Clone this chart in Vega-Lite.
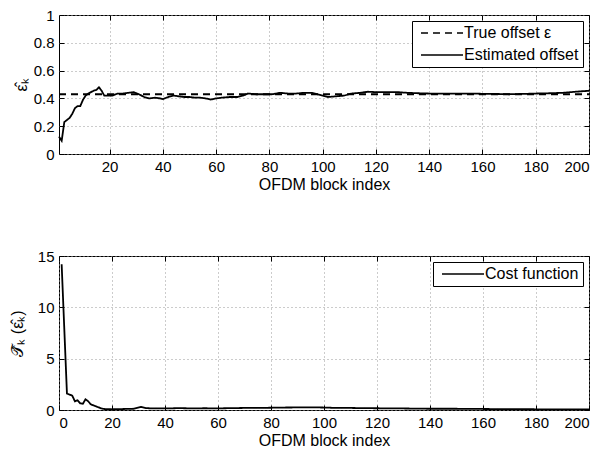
{
  "$schema": "https://vega.github.io/schema/vega-lite/v6.json",
  "background": "white",
  "padding": {"left": 8, "top": 7, "right": 5, "bottom": 0},
  "columns": 1,
  "spacing": 55,
  "resolve": {"scale": {"strokeDash": "independent", "x": "independent", "y": "independent"}, "legend": {"strokeDash": "independent"}},
  "datasets": {
    "offset": [
      {"x": 1, "y": 0.43, "s": "True offset ε"},
      {"x": 200, "y": 0.43, "s": "True offset ε"},
      {"x": 1, "y": 0.125, "s": "Estimated offset"},
      {"x": 2, "y": 0.095, "s": "Estimated offset"},
      {"x": 3, "y": 0.23, "s": "Estimated offset"},
      {"x": 4, "y": 0.245, "s": "Estimated offset"},
      {"x": 5, "y": 0.26, "s": "Estimated offset"},
      {"x": 6, "y": 0.29, "s": "Estimated offset"},
      {"x": 7, "y": 0.33, "s": "Estimated offset"},
      {"x": 8, "y": 0.345, "s": "Estimated offset"},
      {"x": 9, "y": 0.345, "s": "Estimated offset"},
      {"x": 10, "y": 0.39, "s": "Estimated offset"},
      {"x": 11, "y": 0.42, "s": "Estimated offset"},
      {"x": 12, "y": 0.435, "s": "Estimated offset"},
      {"x": 13, "y": 0.445, "s": "Estimated offset"},
      {"x": 14, "y": 0.455, "s": "Estimated offset"},
      {"x": 15, "y": 0.46, "s": "Estimated offset"},
      {"x": 16, "y": 0.48, "s": "Estimated offset"},
      {"x": 17, "y": 0.455, "s": "Estimated offset"},
      {"x": 18, "y": 0.42, "s": "Estimated offset"},
      {"x": 19, "y": 0.42, "s": "Estimated offset"},
      {"x": 21, "y": 0.42, "s": "Estimated offset"},
      {"x": 23, "y": 0.435, "s": "Estimated offset"},
      {"x": 25, "y": 0.435, "s": "Estimated offset"},
      {"x": 27, "y": 0.44, "s": "Estimated offset"},
      {"x": 29, "y": 0.445, "s": "Estimated offset"},
      {"x": 31, "y": 0.43, "s": "Estimated offset"},
      {"x": 33, "y": 0.41, "s": "Estimated offset"},
      {"x": 35, "y": 0.4, "s": "Estimated offset"},
      {"x": 37, "y": 0.405, "s": "Estimated offset"},
      {"x": 39, "y": 0.4, "s": "Estimated offset"},
      {"x": 40, "y": 0.395, "s": "Estimated offset"},
      {"x": 42, "y": 0.41, "s": "Estimated offset"},
      {"x": 44, "y": 0.42, "s": "Estimated offset"},
      {"x": 46, "y": 0.415, "s": "Estimated offset"},
      {"x": 48, "y": 0.41, "s": "Estimated offset"},
      {"x": 50, "y": 0.41, "s": "Estimated offset"},
      {"x": 52, "y": 0.405, "s": "Estimated offset"},
      {"x": 54, "y": 0.405, "s": "Estimated offset"},
      {"x": 56, "y": 0.4, "s": "Estimated offset"},
      {"x": 58, "y": 0.392, "s": "Estimated offset"},
      {"x": 60, "y": 0.4, "s": "Estimated offset"},
      {"x": 62, "y": 0.405, "s": "Estimated offset"},
      {"x": 65, "y": 0.41, "s": "Estimated offset"},
      {"x": 68, "y": 0.41, "s": "Estimated offset"},
      {"x": 70, "y": 0.42, "s": "Estimated offset"},
      {"x": 72, "y": 0.435, "s": "Estimated offset"},
      {"x": 75, "y": 0.43, "s": "Estimated offset"},
      {"x": 78, "y": 0.43, "s": "Estimated offset"},
      {"x": 81, "y": 0.43, "s": "Estimated offset"},
      {"x": 84, "y": 0.44, "s": "Estimated offset"},
      {"x": 87, "y": 0.435, "s": "Estimated offset"},
      {"x": 90, "y": 0.435, "s": "Estimated offset"},
      {"x": 93, "y": 0.44, "s": "Estimated offset"},
      {"x": 96, "y": 0.44, "s": "Estimated offset"},
      {"x": 99, "y": 0.425, "s": "Estimated offset"},
      {"x": 102, "y": 0.41, "s": "Estimated offset"},
      {"x": 105, "y": 0.415, "s": "Estimated offset"},
      {"x": 108, "y": 0.42, "s": "Estimated offset"},
      {"x": 111, "y": 0.435, "s": "Estimated offset"},
      {"x": 114, "y": 0.44, "s": "Estimated offset"},
      {"x": 117, "y": 0.448, "s": "Estimated offset"},
      {"x": 120, "y": 0.445, "s": "Estimated offset"},
      {"x": 124, "y": 0.445, "s": "Estimated offset"},
      {"x": 128, "y": 0.445, "s": "Estimated offset"},
      {"x": 132, "y": 0.44, "s": "Estimated offset"},
      {"x": 136, "y": 0.437, "s": "Estimated offset"},
      {"x": 140, "y": 0.435, "s": "Estimated offset"},
      {"x": 145, "y": 0.435, "s": "Estimated offset"},
      {"x": 150, "y": 0.435, "s": "Estimated offset"},
      {"x": 155, "y": 0.435, "s": "Estimated offset"},
      {"x": 160, "y": 0.433, "s": "Estimated offset"},
      {"x": 165, "y": 0.432, "s": "Estimated offset"},
      {"x": 170, "y": 0.43, "s": "Estimated offset"},
      {"x": 175, "y": 0.432, "s": "Estimated offset"},
      {"x": 180, "y": 0.435, "s": "Estimated offset"},
      {"x": 185, "y": 0.437, "s": "Estimated offset"},
      {"x": 190, "y": 0.44, "s": "Estimated offset"},
      {"x": 195, "y": 0.448, "s": "Estimated offset"},
      {"x": 200, "y": 0.455, "s": "Estimated offset"}
    ],
    "cost": [
      {"x": 1, "y": 14.2, "s": "Cost function"},
      {"x": 3, "y": 1.6, "s": "Cost function"},
      {"x": 4, "y": 1.5, "s": "Cost function"},
      {"x": 5, "y": 1.4, "s": "Cost function"},
      {"x": 6, "y": 0.85, "s": "Cost function"},
      {"x": 7, "y": 0.95, "s": "Cost function"},
      {"x": 8, "y": 0.65, "s": "Cost function"},
      {"x": 9, "y": 0.6, "s": "Cost function"},
      {"x": 10, "y": 1.05, "s": "Cost function"},
      {"x": 11, "y": 0.85, "s": "Cost function"},
      {"x": 12, "y": 0.55, "s": "Cost function"},
      {"x": 13, "y": 0.45, "s": "Cost function"},
      {"x": 14, "y": 0.35, "s": "Cost function"},
      {"x": 15, "y": 0.25, "s": "Cost function"},
      {"x": 16, "y": 0.15, "s": "Cost function"},
      {"x": 17, "y": 0.1, "s": "Cost function"},
      {"x": 18, "y": 0.08, "s": "Cost function"},
      {"x": 20, "y": 0.07, "s": "Cost function"},
      {"x": 25, "y": 0.1, "s": "Cost function"},
      {"x": 28, "y": 0.12, "s": "Cost function"},
      {"x": 31, "y": 0.3, "s": "Cost function"},
      {"x": 33, "y": 0.18, "s": "Cost function"},
      {"x": 36, "y": 0.15, "s": "Cost function"},
      {"x": 40, "y": 0.15, "s": "Cost function"},
      {"x": 45, "y": 0.18, "s": "Cost function"},
      {"x": 50, "y": 0.16, "s": "Cost function"},
      {"x": 55, "y": 0.17, "s": "Cost function"},
      {"x": 60, "y": 0.16, "s": "Cost function"},
      {"x": 65, "y": 0.18, "s": "Cost function"},
      {"x": 70, "y": 0.2, "s": "Cost function"},
      {"x": 75, "y": 0.2, "s": "Cost function"},
      {"x": 80, "y": 0.22, "s": "Cost function"},
      {"x": 85, "y": 0.24, "s": "Cost function"},
      {"x": 90, "y": 0.25, "s": "Cost function"},
      {"x": 95, "y": 0.26, "s": "Cost function"},
      {"x": 100, "y": 0.24, "s": "Cost function"},
      {"x": 105, "y": 0.2, "s": "Cost function"},
      {"x": 110, "y": 0.2, "s": "Cost function"},
      {"x": 115, "y": 0.18, "s": "Cost function"},
      {"x": 120, "y": 0.17, "s": "Cost function"},
      {"x": 130, "y": 0.15, "s": "Cost function"},
      {"x": 140, "y": 0.12, "s": "Cost function"},
      {"x": 150, "y": 0.12, "s": "Cost function"},
      {"x": 160, "y": 0.1, "s": "Cost function"},
      {"x": 170, "y": 0.08, "s": "Cost function"},
      {"x": 180, "y": 0.07, "s": "Cost function"},
      {"x": 190, "y": 0.06, "s": "Cost function"},
      {"x": 200, "y": 0.07, "s": "Cost function"}
    ]
  },
  "concat": [
    {
      "width": 530,
      "height": 139,
      "data": {"name": "offset"},
      "layer": [
        {
          "mark": {"type": "line", "color": "black", "strokeWidth": 1.8},
          "encoding": {
            "x": {"field": "x", "type": "quantitative", "scale": {"domain": [1, 200], "nice": false},
                  "axis": {"values": [20, 40, 60, 80, 100, 120, 140, 160, 180, 200], "title": "OFDM block index"}},
            "y": {"field": "y", "type": "quantitative", "scale": {"domain": [0, 1], "nice": false},
                  "axis": {"values": [0, 0.2, 0.4, 0.6, 0.8, 1], "title": "ε̂ₖ", "format": "~g", "titlePadding": 4}},
            "strokeDash": {"field": "s", "type": "nominal",
              "scale": {"domain": ["True offset ε", "Estimated offset"], "range": [[7, 5], [1, 0]]},
              "legend": {"orient": "top-right", "title": null, "offset": 6}}
          }
        },
        {
          "mark": {"type": "line", "opacity": 0},
          "encoding": {
            "x": {"field": "x", "type": "quantitative", "axis": {"values": [20, 40, 60, 80, 100, 120, 140, 160, 180, 200], "labels": false, "grid": false, "title": null}},
            "y": {"field": "y", "type": "quantitative", "axis": {"values": [0, 0.2, 0.4, 0.6, 0.8, 1], "labels": false, "grid": false, "title": null}}
          }
        }
      ],
      "resolve": {"axis": {"x": "independent", "y": "independent"}}
    },
    {
      "width": 530,
      "height": 154,
      "data": {"name": "cost"},
      "layer": [
        {
          "mark": {"type": "line", "color": "black", "strokeWidth": 1.8},
          "encoding": {
            "x": {"field": "x", "type": "quantitative", "scale": {"domain": [0, 200], "nice": false},
                  "axis": {"values": [0, 20, 40, 60, 80, 100, 120, 140, 160, 180, 200], "title": "OFDM block index"}},
            "y": {"field": "y", "type": "quantitative", "scale": {"domain": [0, 15], "nice": false},
                  "axis": {"values": [0, 5, 10, 15], "title": "𝒯̂ₖ (ε̂ₖ)", "titlePadding": 12}},
            "strokeDash": {"field": "s", "type": "nominal",
              "scale": {"domain": ["Cost function"], "range": [[1, 0]]},
              "legend": {"orient": "top-right", "title": null, "offset": 6}}
          }
        },
        {
          "mark": {"type": "line", "opacity": 0},
          "encoding": {
            "x": {"field": "x", "type": "quantitative", "axis": {"values": [0, 20, 40, 60, 80, 100, 120, 140, 160, 180, 200], "labels": false, "grid": false, "title": null}},
            "y": {"field": "y", "type": "quantitative", "axis": {"values": [0, 5, 10, 15], "labels": false, "grid": false, "title": null}}
          }
        }
      ],
      "resolve": {"axis": {"x": "independent", "y": "independent"}}
    }
  ],
  "config": {
    "font": "Liberation Sans",
    "view": {"stroke": "black", "strokeWidth": 1},
    "axis": {
      "domain": false,
      "grid": true,
      "gridColor": "#999999",
      "gridDash": [1, 3],
      "gridOpacity": 1,
      "tickColor": "black",
      "tickSize": -5,
      "labelPadding": 10,
      "labelFontSize": 15,
      "labelColor": "black",
      "titleFontSize": 16,
      "titleFontWeight": "normal",
      "titleColor": "black",
      "titlePadding": 2
    },
    "legend": {
      "strokeColor": "black",
      "fillColor": "white",
      "padding": 4,
      "symbolType": "M-3,0H3",
      "symbolSize": 196,
      "symbolOffset": 18,
      "labelOffset": 14,
      "symbolStrokeColor": "black",
      "symbolStrokeWidth": 1.5,
      "labelFontSize": 16,
      "labelColor": "black",
      "labelLimit": 300,
      "rowPadding": 6,
      "cornerRadius": 0
    }
  }
}
